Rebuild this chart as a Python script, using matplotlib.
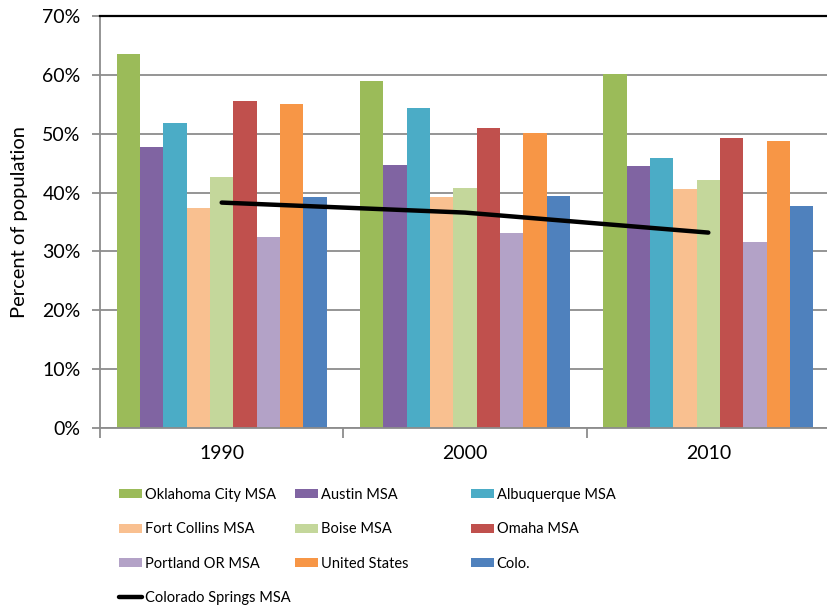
import matplotlib.pyplot as plt
import numpy as np

plt.rcParams['font.family'] = ['Lato', 'DejaVu Sans']

years = ['1990', '2000', '2010']
series_names = ['Oklahoma City MSA', 'Austin MSA', 'Albuquerque MSA',
                'Fort Collins MSA', 'Boise MSA', 'Omaha MSA',
                'Portland OR MSA', 'United States', 'Colo.']
okc = [63.5, 59.0, 60.1]
austin = [47.7, 44.6, 44.5]
albuquerque = [51.8, 54.3, 45.9]
fort_collins = [37.3, 39.2, 40.6]
boise = [42.6, 40.7, 42.1]
omaha = [55.6, 50.9, 49.3]
portland = [32.4, 33.2, 31.6]
united_states = [55.0, 50.1, 48.8]
colo = [39.2, 39.5, 37.7]
colorado_springs = [38.3, 36.6, 33.2]

series = [okc, austin, albuquerque, fort_collins, boise, omaha,
          portland, united_states, colo]
colors = ['#9BBB59', '#8064A2', '#4BACC6', '#F9C090', '#C4D79B',
          '#C0504D', '#B3A2C7', '#F79646', '#4F81BD']

fig = plt.figure(figsize=(8.28, 6.10), dpi=100)
ax = fig.add_axes([100 / 828, 1 - 428 / 610, 730 / 828, 412 / 610])

x = np.arange(len(years))
width = 0.864 / len(series)
handles = []
for i, (vals, c) in enumerate(zip(series, colors)):
    offs = (i - (len(series) - 1) / 2) * width
    h = ax.bar(x + offs, vals, width, color=c, zorder=2)
    handles.append(h)

line, = ax.plot(x, colorado_springs, color='black', lw=3.2,
                solid_capstyle='round', zorder=3)

ax.set_xlim(-0.5, 2.5)
ax.set_ylim(0, 70)
ax.set_yticks(np.arange(0, 71, 10))
ax.set_yticklabels(['%d%%' % v for v in range(0, 71, 10)], fontsize=14)
ax.yaxis.grid(True, color='#8c8c8c', lw=1.3, zorder=0)
ax.set_axisbelow(True)

ax.set_xticks(x)
ax.set_xticklabels(years, fontsize=14)
ax.set_xticks([-0.5, 0.5, 1.5, 2.5], minor=True)
ax.tick_params(axis='x', which='major', length=0, pad=12)
ax.tick_params(axis='x', which='minor', length=7, color='#8c8c8c', width=1.3)
ax.tick_params(axis='y', length=6, color='#8c8c8c', width=1.3, pad=8)

ax.set_ylabel('Percent of population', fontsize=14.5, labelpad=10)

for s in ['left', 'bottom']:
    ax.spines[s].set_color('#8c8c8c')
    ax.spines[s].set_linewidth(1.3)
ax.spines['right'].set_visible(False)
ax.spines['top'].set_color('black')
ax.spines['top'].set_linewidth(1.6)

# legend in three columns, row-major order like the original
cols = [
    ([handles[0], handles[3], handles[6], line],
     [series_names[0], series_names[3], series_names[6], 'Colorado Springs MSA']),
    ([handles[1], handles[4], handles[7]],
     [series_names[1], series_names[4], series_names[7]]),
    ([handles[2], handles[5], handles[8]],
     [series_names[2], series_names[5], series_names[8]]),
]
col_x = [119 / 828, 295 / 828, 471 / 828]
for (hs, ls), cx in zip(cols, col_x):
    fig.legend(hs, ls, loc='upper left', bbox_to_anchor=(cx, 1 - 488 / 610),
               frameon=False, fontsize=10.5, handlelength=1.6, handleheight=0.55,
               handletextpad=0.15, labelspacing=1.4, borderaxespad=0,
               borderpad=0)

fig.savefig('out.png', dpi=100)
